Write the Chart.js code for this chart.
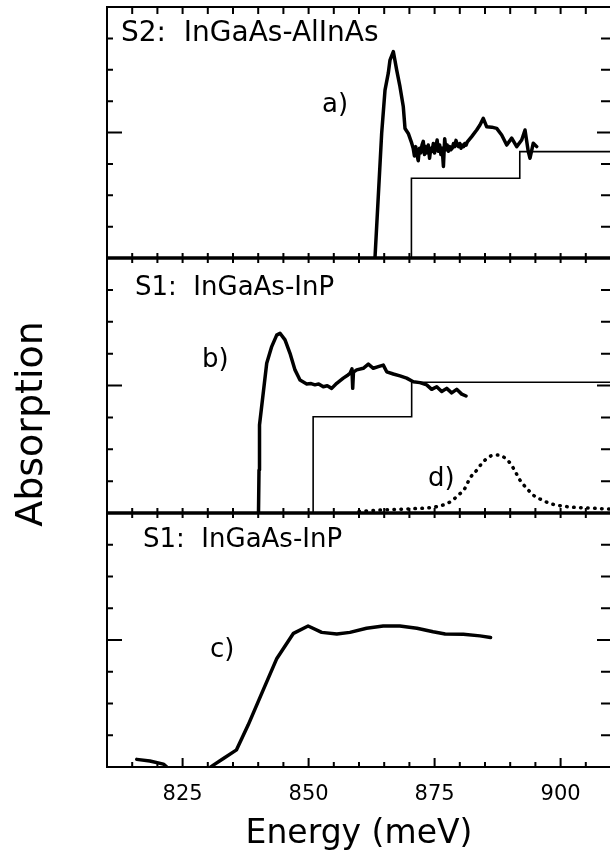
<!DOCTYPE html>
<html>
<head>
<meta charset="utf-8">
<script src="https://cdn.jsdelivr.net/npm/chart.js@4.4.0/dist/chart.umd.min.js"></script>
<style>
  html, body { margin:0; padding:0; background:#fff; overflow:hidden; }
  #wrap { position:relative; width:615px; height:858px; }
</style>
</head>
<body>
<div id="wrap"><canvas id="chart" width="615" height="858"></canvas></div>
<script>
// values: energy in meV, absorption in panel units (0..8)
const xTickLabels = [825, 850, 875, 900];
const panelTitles = ['S2:  InGaAs-AlInAs', 'S1:  InGaAs-InP', 'S1:  InGaAs-InP'];
const curveTags = ['a)', 'b)', 'c)', 'd)'];

// a) S2 measured absorption
const aEnergy = [863.17, 864.50, 865.16, 865.81, 866.15, 866.81, 867.48, 868.13, 868.79, 869.13, 869.78, 870.46,
  870.75, 871.00, 871.25, 871.50, 871.75, 872.00, 872.25, 872.50, 872.75, 873.00, 873.25, 873.50, 873.75, 874.00,
  874.25, 874.50, 874.75, 875.00, 875.25, 875.50, 875.75, 876.00, 876.25, 876.50, 876.75, 877.00, 877.25, 877.50,
  877.75, 878.00, 878.25, 878.50, 878.75, 879.00, 879.25, 879.50, 879.75, 880.00, 880.25, 880.50, 880.75, 881.00,
  881.25, 881.50, 882.36, 883.35, 884.00, 884.66, 885.34, 886.33, 887.32, 888.31, 889.31, 890.30, 891.29, 892.28,
  892.94, 893.59, 893.93, 894.58, 895.26];
const aAbs = [0, 3.98, 5.35, 5.89, 6.31, 6.58, 5.99, 5.46, 4.82, 4.13, 3.97, 3.66,
  3.50, 3.25, 3.55, 3.30, 3.10, 3.50, 3.35, 3.60, 3.72, 3.30, 3.55, 3.35, 3.60, 3.18,
  3.50, 3.40, 3.65, 3.35, 3.55, 3.76, 3.40, 3.60, 3.30, 3.50, 2.92, 3.80, 3.45, 3.60,
  3.40, 3.55, 3.45, 3.50, 3.65, 3.55, 3.75, 3.60, 3.55, 3.65, 3.50, 3.60, 3.55, 3.65,
  3.60, 3.70, 3.87, 4.08, 4.24, 4.45, 4.18, 4.17, 4.13, 3.92, 3.60, 3.82, 3.55, 3.76,
  4.08, 3.39, 3.18, 3.66, 3.55];
// a) step edges
const stepAEnergy = [870.4, 891.9, 910];
const stepALevel = [0, 2.54, 3.39];

// b) S1 measured absorption
const bEnergy = [840.06, 840.16, 840.26, 841.69, 842.68, 843.67, 844.33, 845.32, 846.31, 847.30, 848.29, 849.62,
  850.50, 851.27, 852.00, 852.92, 853.70, 854.58, 855.58, 856.88, 857.82, 858.21, 858.60, 858.75, 858.90, 859.54,
  860.85, 861.85, 862.84, 863.83, 864.82, 865.50, 866.81, 868.13, 869.46, 870.77, 872.10, 873.43, 874.42, 875.42,
  876.41, 877.40, 878.39, 879.38, 880.38, 881.23];
const bAbs = [0, 1.35, 2.76, 4.70, 5.22, 5.58, 5.64, 5.43, 5.01, 4.49, 4.17, 4.05,
  4.06, 4.02, 4.05, 3.96, 3.99, 3.91, 4.07, 4.23, 4.33, 4.38, 4.52, 3.91, 4.42, 4.49,
  4.54, 4.67, 4.54, 4.59, 4.64, 4.43, 4.36, 4.30, 4.23, 4.12, 4.09, 4.02, 3.88, 3.96,
  3.81, 3.91, 3.77, 3.88, 3.73, 3.67];
// b) step edges
const stepBEnergy = [850.9, 870.45, 910];
const stepBLevel = [0, 3.02, 4.10];

// c) S1 second spectrum
const cEnergy = [815.9, 818.5, 821.2, 824.0, 828.0, 831.1, 833.1, 835.7, 838.0, 841.0, 843.7, 847.0, 849.9,
  852.6, 855.6, 858.2, 861.5, 864.8, 868.1, 871.5, 874.7, 877.1, 880.7, 884.0, 886.1];
const cAbs = [0.24, 0.19, 0.09, -0.3, -0.3, 0.06, 0.27, 0.54, 1.32, 2.43, 3.42, 4.21, 4.44,
  4.24, 4.19, 4.24, 4.37, 4.44, 4.44, 4.37, 4.26, 4.19, 4.18, 4.13, 4.08];

// d) dotted peak in panel b
const dEnergy = [860.0, 865.0, 870.0, 875.4, 878.1, 879.7, 881.0, 882.0, 883.4, 884.4, 885.7, 887.0, 888.3,
  890.0, 891.0, 891.9, 893.3, 894.6, 896.3, 897.9, 901.2, 906.5, 910.0];
const dAbs = [0.05, 0.10, 0.13, 0.20, 0.35, 0.56, 0.77, 1.09, 1.35, 1.56, 1.75, 1.82, 1.79,
  1.56, 1.30, 1.04, 0.77, 0.56, 0.41, 0.30, 0.20, 0.15, 0.12];

const pts = (xs, ys) => xs.map((x, i) => ({x, y: ys[i]}));
const line = (data, yAxisID, width, extra) => Object.assign({
  data, yAxisID, borderColor: '#000', borderWidth: width, pointRadius: 0, fill: false, tension: 0,
  borderJoinStyle: 'round', borderCapStyle: 'round'
}, extra || {});

const FONT = 'DejaVu Sans';

const framePlugin = {
  id: 'frame',
  afterDraw(chart) {
    const {ctx, chartArea: {left, right, top, bottom}, scales} = chart;
    const x = scales.x;
    const panels = [scales.ya, scales.yb, scales.yc];
    ctx.save();
    ctx.strokeStyle = '#000';
    ctx.fillStyle = '#000';

    ctx.lineWidth = 2;
    ctx.strokeRect(left, top, right - left, bottom - top);

    ctx.lineWidth = 3.5;
    const seps = [scales.ya.bottom, scales.yb.bottom];
    seps.forEach(y => { ctx.beginPath(); ctx.moveTo(left, y); ctx.lineTo(right, y); ctx.stroke(); });

    // x ticks every 5 meV
    ctx.lineWidth = 2;
    ctx.beginPath();
    for (let e = 815; e < 910; e += 5) {
      const px = x.getPixelForValue(e);
      const big = e % 25 === 0;
      ctx.moveTo(px, top); ctx.lineTo(px, top + 7);
      ctx.moveTo(px, bottom); ctx.lineTo(px, bottom - (big ? 9 : 5));
      seps.forEach(y => { ctx.moveTo(px, y - 5); ctx.lineTo(px, y + 5); });
    }
    // y ticks on both sides
    panels.forEach(s => {
      for (let v = 1; v < 8; v++) {
        const py = s.getPixelForValue(v);
        const big = v === 4;
        ctx.moveTo(left, py); ctx.lineTo(left + (big ? 15 : 6), py);
        ctx.moveTo(right, py); ctx.lineTo(right - (big ? 14 : 10), py);
      }
    });
    ctx.stroke();

    // panel titles and curve tags
    ctx.textBaseline = 'alphabetic';
    ctx.textAlign = 'left';
    ctx.font = '28px "' + FONT + '"';
    ctx.fillText(panelTitles[0], 121, 41);
    ctx.font = '26px "' + FONT + '"';
    ctx.fillText(panelTitles[1], 135, 295);
    ctx.fillText(panelTitles[2], 143, 547);
    ctx.fillText(curveTags[0], 322, 112);
    ctx.fillText(curveTags[1], 202, 367);
    ctx.fillText(curveTags[2], 210, 657);
    ctx.fillText(curveTags[3], 428, 486);

    // y title
    ctx.translate(42, 424);
    ctx.rotate(-Math.PI / 2);
    ctx.textAlign = 'center';
    ctx.font = '38px "' + FONT + '"';
    ctx.fillText('Absorption', 0, 0);
    ctx.restore();
  }
};

const yPanel = (weight) => ({
  type: 'linear', min: 0, max: 8, position: 'left', stack: 'panels', stackWeight: weight, display: false
});

new Chart(document.getElementById('chart'), {
  type: 'line',
  data: {
    datasets: [
      line(pts(aEnergy, aAbs), 'ya', 3.5),
      line(pts(stepAEnergy, stepALevel), 'ya', 1.6, {stepped: 'after', borderCapStyle: 'butt', borderJoinStyle: 'miter'}),
      line(pts(bEnergy, bAbs), 'yb', 3.5),
      line(pts(stepBEnergy, stepBLevel), 'yb', 1.6, {stepped: 'after', borderCapStyle: 'butt', borderJoinStyle: 'miter'}),
      line(pts(dEnergy, dAbs), 'yb', 3.5, {borderDash: [0.5, 6.5], cubicInterpolationMode: 'monotone'}),
      line(pts(cEnergy, cAbs), 'yc', 3.5)
    ]
  },
  options: {
    responsive: false,
    animation: false,
    events: [],
    layout: {padding: {left: 107, top: 7, right: 4, bottom: 0}},
    plugins: {legend: {display: false}, tooltip: {enabled: false}},
    scales: {
      x: {
        type: 'linear', min: 810, max: 910, position: 'bottom',
        afterBuildTicks: s => { s.ticks = xTickLabels.map(v => ({value: v})); },
        afterFit: s => { s.height = 91; },
        grid: {display: false, drawTicks: false},
        border: {display: false},
        ticks: {padding: 15, color: '#000', font: {family: FONT, size: 21}},
        title: {display: true, text: 'Energy (meV)', color: '#000', font: {family: FONT, size: 33}, padding: {top: 0, bottom: 4}}
      },
      yc: yPanel(254),
      yb: yPanel(255),
      ya: yPanel(251)
    }
  },
  plugins: [framePlugin]
});
</script>
</body>
</html>
